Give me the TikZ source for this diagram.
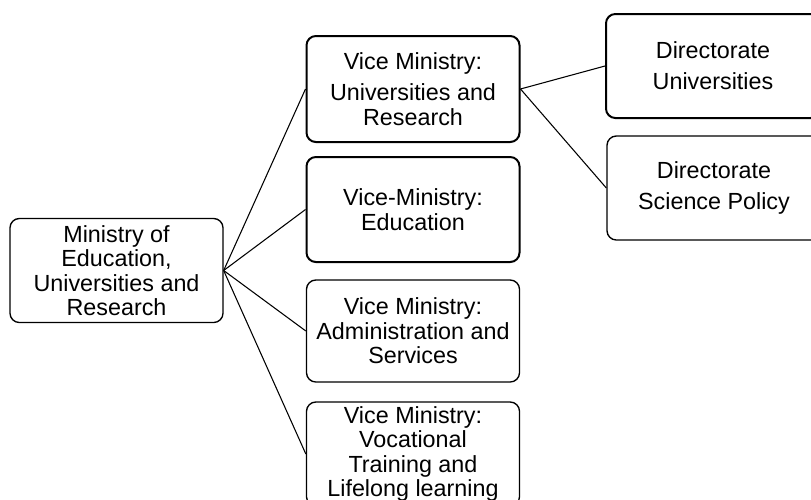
\documentclass[tikz,border=0pt]{standalone}
\usepackage{fontspec}
\setmainfont{Liberation Sans}
\begin{document}
\begin{tikzpicture}[x=0.75pt,y=-0.75pt,
  box/.style={draw=black,line width=1pt,rounded corners=7pt,align=center,
    inner sep=0pt,minimum width=213*0.75pt,minimum height=104*0.75pt,
    font=\fontsize{17.5}{18.4}\selectfont},
  boldbox/.style={box,line width=1.5pt},
  conn/.style={draw=black,line width=0.8pt}]
\useasboundingbox (0,0) rectangle (811,500);
\node[box] (root) at (116.5,270.5) {Ministry of\\Education,\\Universities and\\Research};
\node[boldbox,minimum height=106*0.75pt] (vm1) at (413,89) {Vice Ministry:\\[5pt]Universities and\\Research};
\node[boldbox,minimum height=105*0.75pt] (vm2) at (413,209.5) {Vice-Ministry:\\Education};
\node[box,minimum height=102*0.75pt] (vm3) at (413,331) {Vice Ministry:\\Administration and\\Services};
\node[box] (vm4) at (413,454) {Vice Ministry:\\Vocational\\Training and\\Lifelong learning};
\node[boldbox,minimum width=214*0.75pt] (du) at (713,66) {Directorate\\[5pt]Universities};
\node[box,minimum width=214*0.75pt] (dsp) at (714,188) {Directorate\\[5pt]Science Policy};
\draw[conn] (root.east) -- (vm1.west);
\draw[conn] (root.east) -- (vm2.west);
\draw[conn] (root.east) -- (vm3.west);
\draw[conn] (root.east) -- (vm4.west);
\draw[conn] (vm1.east) -- (du.west);
\draw[conn] (vm1.east) -- (dsp.west);
\end{tikzpicture}
\end{document}
